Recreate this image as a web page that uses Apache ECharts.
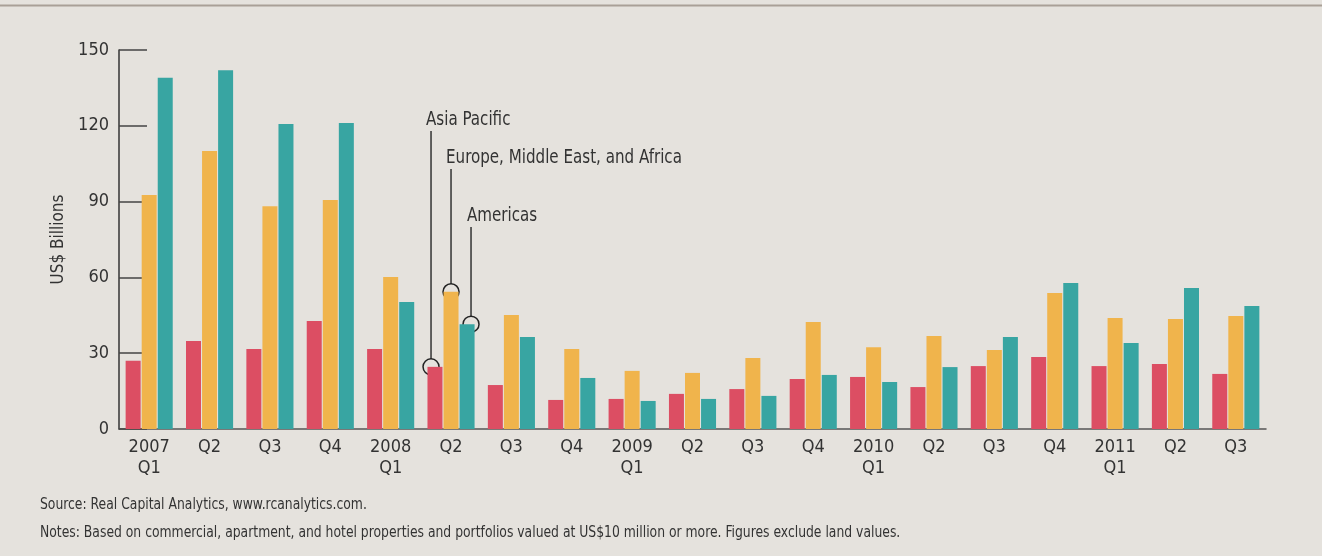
<!DOCTYPE html>
<html>
<head>
<meta charset="utf-8">
<script src="https://cdn.jsdelivr.net/npm/echarts@6/dist/echarts.min.js"></script>
<style>
  html, body { margin: 0; padding: 0; background: #e5e2dd; }
  #chart { width: 1322px; height: 556px; }
</style>
</head>
<body>
<div id="chart"></div>
<script>
const quarters = ['2007\nQ1', 'Q2', 'Q3', 'Q4', '2008\nQ1', 'Q2', 'Q3', 'Q4', '2009\nQ1', 'Q2', 'Q3', 'Q4',
  '2010\nQ1', 'Q2', 'Q3', 'Q4', '2011\nQ1', 'Q2', 'Q3']
const asiaPacific = [27, 34.8, 31.7, 42.7, 31.7, 24.6, 17.4, 11.5, 11.9, 13.9, 15.8, 19.8, 20.6, 16.6, 24.9, 28.5, 24.9, 25.7, 21.8]
const emea = [92.6, 110, 88.2, 90.6, 60.2, 54.3, 45.1, 31.7, 23, 22.2, 28.1, 42.3, 32.4, 36.8, 31.3, 53.8, 43.9, 43.5, 44.7]
const americas = [139, 142, 120.7, 121.1, 50.3, 41.5, 36.4, 20.2, 11.1, 11.9, 13.1, 21.4, 18.6, 24.5, 36.4, 57.8, 34, 55.8, 48.7]
const yTicks = [0, 30, 60, 90, 120, 150]

const seriesNames = ['Asia Pacific', 'Europe, Middle East, and Africa', 'Americas']
const seriesColors = ['#dc4e63', '#f0b44c', '#38a5a2']
const seriesData = [asiaPacific, emea, americas]

// callouts point at 2008 Q2
const calloutIndex = 5
const calloutText = [
  { x: 426, y: 120 },
  { x: 446, y: 158 },
  { x: 467, y: 216 },
]
const barOffsets = [-20, 0, 20]

const FONT = "'DejaVu Sans Condensed', 'Liberation Sans Narrow', sans-serif"
const ink = '#333333'

const chart = echarts.init(document.getElementById('chart'))

chart.setOption({
  animation: false,
  textStyle: { fontFamily: FONT },
  grid: { left: 119, right: 56, top: 50, bottom: 127 },
  xAxis: {
    type: 'category',
    data: quarters,
    axisLine: { lineStyle: { color: '#555', width: 1.5 } },
    axisTick: { inside: true, length: 8, lineStyle: { color: '#333', width: 1.5 } },
    axisLabel: { color: ink, fontSize: 18, lineHeight: 21, margin: 8, fontFamily: FONT },
  },
  yAxis: {
    type: 'value',
    min: 0,
    max: 150,
    interval: 30,
    name: 'US$ Billions',
    nameLocation: 'middle',
    nameRotate: 90,
    nameGap: 43,
    nameTextStyle: { color: ink, fontSize: 17, fontFamily: FONT },
    axisLine: { show: true, lineStyle: { color: '#333', width: 1.5 } },
    axisTick: { show: true, inside: true, length: 28, lineStyle: { color: '#444', width: 1.5 } },
    axisLabel: {
      color: ink, fontSize: 18, margin: 10, fontFamily: FONT,
      formatter: v => (yTicks.includes(v) ? String(v) : ''),
    },
    splitLine: { show: false },
  },
  series: seriesData.map((data, i) => ({
    name: seriesNames[i],
    type: 'bar',
    data,
    barWidth: 15,
    barGap: '7%',
    itemStyle: { color: seriesColors[i] },
  })),
})

// callouts: circle on bar top, leader line up to text
function drawCallouts() {
  const elements = [
    { type: 'line', shape: { x1: 0, y1: 5.5, x2: 1322, y2: 5.5 }, style: { stroke: '#a9a097', lineWidth: 2 } },
    {
      type: 'text', x: 40, y: 505, scaleX: 0.86,
      style: {
        text: 'Source: Real Capital Analytics, www.rcanalytics.com.',
        fill: ink, font: `16px ${FONT}`, verticalAlign: 'middle',
      },
    },
    {
      type: 'text', x: 40, y: 533, scaleX: 0.86,
      style: {
        text: 'Notes: Based on commercial, apartment, and hotel properties and portfolios valued at US$10 million or more. Figures exclude land values.',
        fill: ink, font: `16px ${FONT}`, verticalAlign: 'middle',
      },
    },
  ]
  seriesData.forEach((data, i) => {
    const pt = chart.convertToPixel({ seriesIndex: i }, [calloutIndex, data[calloutIndex]])
    const cx = pt[0] + barOffsets[i]
    const cy = pt[1]
    const t = calloutText[i]
    elements.push({
      type: 'text', x: t.x, y: t.y, scaleX: 0.84,
      style: { text: seriesNames[i], fill: ink, font: `20px ${FONT}`, verticalAlign: 'middle' },
    })
    elements.push({
      type: 'line', shape: { x1: cx, y1: t.y + 11, x2: cx, y2: cy - 8 },
      style: { stroke: '#333', lineWidth: 1.5 },
    })
    elements.push({
      type: 'circle', shape: { cx, cy, r: 8 },
      style: { fill: 'none', stroke: '#222', lineWidth: 1.5 },
    })
  })
  chart.setOption({ graphic: elements })
}
drawCallouts()
</script>
</body>
</html>
